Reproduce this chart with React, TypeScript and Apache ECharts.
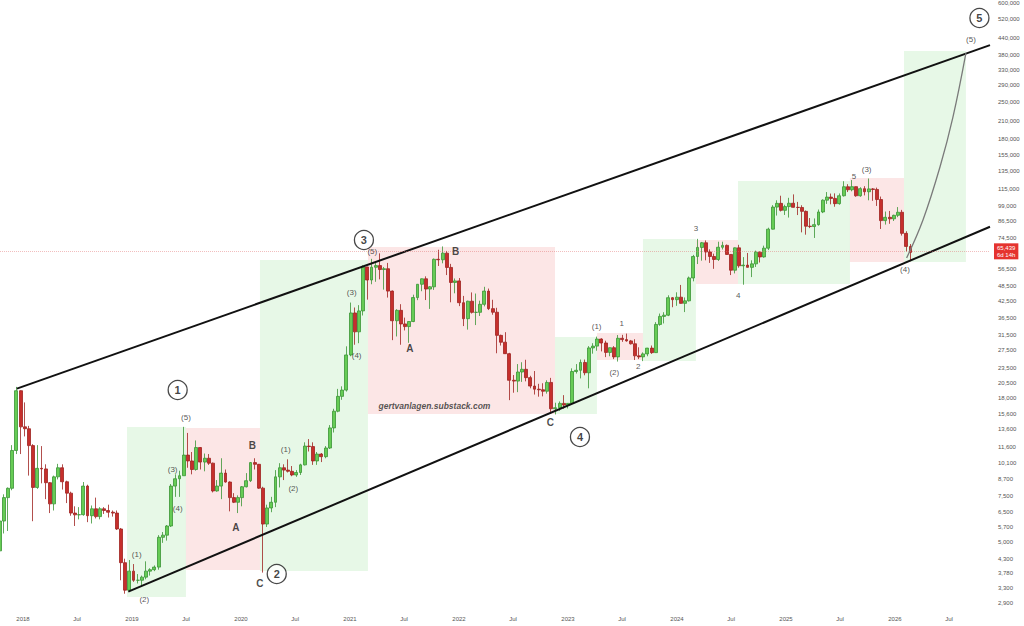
import React, { useEffect, useRef } from 'react';
import * as echarts from 'echarts';

// ---------- DATA ----------
// Bi-weekly BTC candles [open, close, low, high], first candle opens 2017-10-09
const candles2017 = [
  [4610, 6010, 4550, 6180], [6010, 7400, 5380, 7620], [7400, 8040, 5500, 8100],
  [8040, 11250, 7900, 11800], [11250, 19140, 10900, 19800], [19140, 13880, 10900, 19200],
];
const candles2018 = [
  [13880, 13650, 12750, 17250], [13650, 11750, 9000, 14000], [11750, 8100, 6000, 11900],
  [8100, 9600, 8000, 11800], [9600, 9550, 8400, 11700], [9550, 8450, 7300, 9950],
  [8450, 7000, 6450, 8500], [7000, 8900, 6600, 9000], [8900, 9650, 8700, 9990],
  [9650, 8520, 7950, 9950], [8520, 7700, 7050, 8600], [7700, 6450, 6300, 7800],
  [6450, 6350, 5750, 6850], [6350, 6360, 6100, 6800], [6360, 8200, 6300, 8500],
  [8200, 6300, 5950, 8300], [6300, 6700, 5880, 6900], [6700, 6250, 6150, 7400],
  [6250, 6700, 6100, 6800], [6700, 6600, 6400, 6800], [6600, 6500, 6200, 6950],
  [6500, 6450, 6250, 6600], [6450, 5600, 5550, 6600], [5600, 4150, 3550, 5650],
  [4150, 3250, 3150, 4300], [3250, 3850, 3200, 4250], [3850, 3550, 3500, 4100],
];
const candles2019 = [
  [3550, 3550, 3450, 3750], [3550, 3650, 3350, 3700], [3650, 3850, 3580, 4200],
  [3850, 3900, 3700, 3950], [3900, 3990, 3850, 4050], [3990, 5200, 3900, 5300],
  [5200, 5300, 4950, 5450], [5300, 5750, 5050, 5800], [5750, 8200, 5700, 8350],
  [8200, 8750, 7450, 9100], [8750, 8990, 7450, 9400], [8990, 10800, 8990, 13880],
  [10800, 10250, 9650, 13150], [10250, 9500, 9100, 11100], [9500, 11550, 9400, 12300],
  [11550, 10150, 9500, 11600], [10150, 10500, 9350, 10950], [10500, 10050, 9900, 10900],
  [10050, 7850, 7750, 10100], [7850, 8200, 7800, 8650], [8200, 9200, 7300, 10500],
  [9200, 8500, 8450, 9500], [8500, 7400, 6550, 8550], [7400, 7100, 7050, 7700],
  [7100, 7400, 6450, 7550], [7400, 8150, 6850, 8200],
];
const candles2020 = [
  [8150, 8600, 8100, 9200], [8600, 10100, 8500, 10150], [10100, 9950, 9500, 10500],
  [9950, 8050, 8000, 9980], [8050, 5850, 3800, 8150], [5850, 6750, 5700, 6950],
  [6750, 7100, 6500, 7450], [7100, 8900, 6800, 9450], [8900, 9650, 8100, 10050],
  [9650, 9450, 8650, 9950], [9450, 9350, 9250, 10400], [9350, 9050, 8950, 9800],
  [9050, 9250, 8900, 9450], [9250, 9900, 9050, 10000], [9900, 11700, 9850, 12100],
  [11700, 11650, 11150, 12450], [11650, 10250, 9900, 12100], [10250, 10900, 9900, 11100],
  [10900, 10650, 10150, 11000], [10650, 11500, 10500, 11700], [11500, 13750, 11400, 14100],
  [13750, 15950, 13200, 16300], [15950, 18200, 15800, 19450], [18200, 19250, 17650, 19900],
  [19250, 26300, 19000, 28400], [26300, 38200, 26000, 41900],
];
const candles2021 = [
  [38200, 32300, 28800, 40100], [32300, 38900, 29200, 40950], [38900, 57500, 37350, 58350],
  [57500, 51200, 43000, 57600], [51200, 57350, 49300, 61800], [57350, 58200, 50400, 60200],
  [58200, 56200, 51500, 64900], [56200, 56600, 47000, 57500], [56600, 46400, 43800, 59600],
  [46400, 35650, 30000, 46650], [35650, 39100, 31000, 39500], [39100, 34650, 28800, 41300],
  [34650, 33850, 32700, 36650], [33850, 35400, 29300, 35450], [35400, 43800, 35200, 44950],
  [43800, 49300, 42800, 49400], [49300, 51750, 46350, 51900], [51750, 47250, 42850, 52900],
  [47250, 48200, 39600, 48500], [48200, 61550, 46900, 62000], [61550, 61300, 58000, 67000],
  [61300, 65000, 59400, 69000], [65000, 57250, 53500, 66300], [57250, 50100, 42000, 59100],
  [50100, 50800, 45500, 51900], [50800, 41850, 40600, 52100],
];
const candles2022 = [
  [41850, 36300, 34000, 44450], [36300, 42400, 32950, 42600], [42400, 38400, 38000, 45850],
  [38400, 38420, 34300, 45400], [38420, 41250, 37200, 42600], [41250, 46400, 40500, 48200],
  [46400, 39700, 39200, 47450], [39700, 38450, 37600, 42950], [38450, 31300, 26700, 40000],
  [31300, 29450, 28600, 31500], [29450, 26600, 26550, 32200], [26600, 21000, 17600, 26800],
  [21000, 20850, 18800, 22000], [20850, 22600, 18900, 24250], [22600, 23150, 20700, 24650],
  [23150, 21500, 20800, 25200], [21500, 19950, 19550, 21850], [19950, 19400, 18500, 22800],
  [19400, 19300, 18150, 20350], [19300, 19050, 18200, 20450], [19050, 20600, 18650, 21000],
  [20600, 16300, 15600, 21450], [16300, 16450, 15500, 17200], [16450, 17100, 16000, 17400],
  [17100, 16850, 16300, 18400], [16850, 17100, 16350, 17150],
];
const candles2023 = [
  [17100, 22700, 17050, 23350], [22700, 22950, 22300, 24250], [22950, 24600, 21350, 25250],
  [24600, 22450, 21950, 25250], [22450, 28000, 19550, 28450], [28000, 28450, 26600, 29200],
  [28450, 30300, 27300, 30950], [30300, 29250, 27150, 30500], [29250, 26900, 25800, 29850],
  [26900, 28050, 26000, 28100], [28050, 25850, 25350, 28450], [25850, 30500, 24800, 31400],
  [30500, 30150, 29550, 31450], [30150, 29800, 29600, 31800], [29800, 29050, 28850, 30050],
  [29050, 26100, 25150, 30250], [26100, 25850, 25350, 28150], [25850, 26550, 24900, 26900],
  [26550, 27950, 26000, 28000], [27950, 26850, 26550, 28600], [26850, 34500, 26800, 35200],
  [34500, 37050, 34100, 38000], [37050, 37450, 34800, 38450], [37450, 43750, 37150, 44700],
  [43750, 43000, 40200, 44000], [43000, 43950, 40700, 45900],
];
const candles2024 = [
  [43950, 41600, 41500, 49000], [41600, 42550, 38500, 43850], [42550, 52150, 42300, 52800],
  [52150, 63100, 50600, 64000], [63100, 68400, 59000, 73800], [68400, 71300, 60800, 71800],
  [71300, 65700, 61000, 72800], [65700, 63100, 59600, 67250], [63100, 61450, 56550, 64700],
  [61450, 68500, 60650, 71950], [68500, 69650, 67150, 71950], [69650, 64250, 64100, 70200],
  [64250, 55850, 53500, 64350], [55850, 68150, 54300, 68350], [68150, 58100, 57100, 70000],
  [58100, 58450, 49100, 62750], [58450, 57300, 57200, 65100], [57300, 59100, 52550, 61000],
  [59100, 65600, 57500, 66500], [65600, 62850, 59800, 66000], [62850, 67950, 62450, 69500],
  [67950, 80450, 66800, 81500], [80450, 97900, 80200, 99600], [97900, 101200, 90800, 104000],
  [101200, 95100, 94150, 108300], [95100, 98350, 91300, 99950],
];
const candles2025 = [
  [98350, 101300, 89200, 106300], [101300, 97700, 97500, 109600], [97700, 97550, 91200, 102500],
  [97550, 94250, 78200, 99500], [94250, 82600, 76600, 95000], [82600, 82350, 81200, 88800],
  [82350, 83750, 74400, 88500], [83750, 93750, 83000, 95800], [93750, 104100, 92800, 104900],
  [104100, 107000, 100700, 111900], [107000, 105750, 100350, 110400], [105750, 100950, 98200, 110600],
  [100950, 108250, 100000, 110500], [108250, 117300, 107500, 123200], [117300, 114200, 111900, 120000],
  [114200, 117400, 112650, 124450], [117400, 108250, 107300, 117600], [108250, 115300, 107300, 116800],
  [115300, 112200, 108600, 117900], [112200, 115100, 104000, 126200], [115100, 114500, 103500, 116000],
  [114500, 104700, 98900, 116400], [104700, 86800, 80600, 107500], [86800, 89400, 83800, 94100],
  [89400, 88200, 84400, 94600], [88200, 91000, 86500, 91500],
];
const candles2026 = [
  [91000, 93500, 89500, 97900], [93500, 77500, 76000, 95500], [77500, 69000, 66000, 79000],
  [69000, 65439, 60500, 70500],
];

const lastPrice = 65439;
const lastCountdown = '6d 14h';

const xTickYears = [2018, 2019, 2020, 2021, 2022, 2023, 2024, 2025, 2026];
const yTickPrices = [
  2900, 3300, 3780, 4300, 5000, 5700, 6500, 7500, 8700, 10100, 11600, 13600, 15600, 18000,
  20500, 23500, 27500, 31500, 36500, 42500, 48500, 56500, 74500, 86500, 99000, 115000,
  135000, 155000, 180000, 210000, 250000, 290000, 330000, 380000, 440000, 520000, 600000,
];

// channel anchors [decimal year, price]
const upperChannel = [[2017.944, 19500], [2026.872, 413000]];
const lowerChannel = [[2018.966, 3207], [2026.872, 82170]];
// projected path
const projection = [
  [2026.107, 62300], [2026.257, 87300], [2026.413, 139800], [2026.532, 218000], [2026.651, 385000],
];

// boxes [startYear, endYear, low, high]
const greenBoxes = [
  [2018.954, 2019.495, 3059, 13860],
  [2020.174, 2021.165, 3854, 61160],
  [2022.881, 2023.266, 15560, 30860],
  [2023.688, 2024.174, 24920, 73720],
  [2024.56, 2025.587, 49420, 123500],
  [2026.083, 2026.651, 60090, 392000],
];
const redBoxes = [
  [2019.495, 2020.174, 3889, 13740],
  [2021.165, 2022.881, 15560, 68680],
  [2023.266, 2023.688, 25150, 31970],
  [2024.174, 2024.56, 49420, 73070],
  [2025.587, 2026.083, 60090, 126800],
];

// annotations [decimal year, price, text]
const circledLabels = [
  [2019.419, 19260, '1'], [2020.328, 3753, '2'], [2021.128, 73080, '3'],
  [2023.11, 12680, '4'], [2026.775, 525800, '5'],
];
const waveLabels = [
  [2019.495, 15080, '(5)'], [2019.373, 9543, '(3)'], [2019.419, 6747, '(4)'],
  [2019.043, 4483, '(1)'], [2019.113, 2992, '(2)'],
  [2020.41, 11300, '(1)'], [2020.48, 8025, '(2)'], [2021.016, 45820, '(3)'],
  [2021.061, 26170, '(4)'], [2021.205, 65980, '(5)'],
  [2023.263, 33720, '(1)'], [2023.493, 34780, '1'], [2023.425, 22500, '(2)'],
  [2023.645, 23740, '2'], [2024.174, 80590, '3'], [2024.562, 44810, '4'],
  [2025.624, 129000, '5'], [2025.74, 137000, '(3)'], [2026.092, 55970, '(4)'],
  [2026.697, 435000, '(5)'],
];
const letterLabels = [
  [2020.104, 11810, 'B'], [2019.954, 5649, 'A'], [2020.174, 3434, 'C'],
  [2021.55, 27860, 'A'], [2021.968, 65680, 'B'], [2022.839, 14490, 'C'],
];
const watermark = [[2021.775, 16710, 'gertvanlagen.substack.com']];

// ---------- HELPERS ----------
const DAY = 86400000;
const FIRST_CANDLE = Date.UTC(2017, 9, 9);
const L = (p: number) => Math.log10(p);
const toYear = (ms: number) => {
  const y = new Date(ms).getUTCFullYear();
  const s = Date.UTC(y, 0, 1);
  const e = Date.UTC(y + 1, 0, 1);
  return y + (ms - s) / (e - s);
};

const X_MIN = 2017.789;
const X_MAX = 2026.872;
const Y_MIN = 3.4354;
const Y_MAX = 5.7902;
const FONT = '"Liberation Sans", Arial, sans-serif';

const allCandles = [
  ...candles2017, ...candles2018, ...candles2019, ...candles2020, ...candles2021,
  ...candles2022, ...candles2023, ...candles2024, ...candles2025, ...candles2026,
];
const candleData = allCandles.map((c, i) => [
  toYear(FIRST_CANDLE + i * 14 * DAY + 6 * DAY), L(c[0]), L(c[1]), L(c[2]), L(c[3]),
]);

const xTicks: number[] = [];
xTickYears.forEach((y) => {
  xTicks.push(toYear(Date.UTC(y, 0, 1)));
  xTicks.push(toYear(Date.UTC(y, 6, 1)));
});

const boxData = [
  ...greenBoxes.map((b) => [b[0], b[1], L(b[2]), L(b[3]), 0]),
  ...redBoxes.map((b) => [b[0], b[1], L(b[2]), L(b[3]), 1]),
];

const toPts = (arr: number[][]) => arr.map(([t, p]) => [t, L(p)]);
const toLabelData = (arr: any[]) => arr.map(([t, p, s]) => ({ name: s, value: [t, L(p)] }));

const plainLabel = (extra: any) => ({
  show: true,
  position: 'inside',
  formatter: '{b}',
  fontFamily: FONT,
  textBorderWidth: 0,
  textBorderColor: 'transparent',
  textShadowBlur: 0,
  ...extra,
});

const labelSeries = (data: any[], label: any) => ({
  type: 'scatter',
  z: 5,
  silent: true,
  symbolSize: 1,
  itemStyle: { color: 'rgba(0,0,0,0)' },
  data: toLabelData(data),
  label: plainLabel(label),
});

const option: any = {
  animation: false,
  backgroundColor: '#ffffff',
  textStyle: { fontFamily: FONT },
  grid: { left: 0, right: 34, top: 0, bottom: 16, containLabel: false },
  xAxis: {
    type: 'value',
    min: X_MIN,
    max: X_MAX,
    axisLine: { show: false },
    axisTick: { show: false },
    splitLine: { show: false },
    axisLabel: {
      customValues: xTicks,
      formatter: (v: number) => (Math.abs(v - Math.round(v)) < 0.01 ? String(Math.round(v)) : 'Jul'),
      fontSize: 6,
      color: '#555',
      margin: 6,
      fontFamily: FONT,
    },
  },
  yAxis: {
    type: 'value',
    position: 'right',
    min: Y_MIN,
    max: Y_MAX,
    axisLine: { show: false },
    axisTick: { show: false },
    splitLine: { show: false },
    axisLabel: {
      customValues: yTickPrices.map(L),
      formatter: (v: number) => Math.round(Math.pow(10, v)).toLocaleString('en-US'),
      fontSize: 6,
      color: '#555',
      align: 'left',
      margin: 8,
      fontFamily: FONT,
    },
  },
  series: [
    {
      type: 'custom',
      z: 1,
      silent: true,
      clip: true,
      data: boxData,
      encode: { x: [0, 1], y: [2, 3] },
      renderItem: (params: any, api: any) => {
        const p1 = api.coord([api.value(0), api.value(3)]);
        const p2 = api.coord([api.value(1), api.value(2)]);
        const red = api.value(4) === 1;
        return {
          type: 'rect',
          shape: { x: p1[0], y: p1[1], width: p2[0] - p1[0], height: p2[1] - p1[1] },
          style: { fill: red ? 'rgba(232, 60, 60, 0.13)' : 'rgba(60, 195, 60, 0.12)' },
        };
      },
    },
    {
      type: 'candlestick',
      z: 3,
      silent: true,
      barWidth: 3.4,
      data: candleData,
      itemStyle: {
        color: '#66cc55',
        color0: '#c62f2c',
        borderColor: '#3a9435',
        borderColor0: '#9e2220',
        borderWidth: 0.8,
      },
      markLine: {
        silent: true,
        symbol: ['none', 'none'],
        lineStyle: { color: 'rgba(225, 110, 110, 0.45)', type: 'dotted', width: 1 },
        label: {
          show: true,
          position: 'end',
          distance: 4,
          formatter: () => `${lastPrice.toLocaleString('en-US')}\n${lastCountdown}`,
          backgroundColor: '#e5332f',
          color: '#fff',
          fontSize: 6,
          lineHeight: 7,
          padding: [1, 3, 1, 3],
          fontFamily: FONT,
        },
        data: [{ yAxis: L(lastPrice) }],
      },
    },
    {
      type: 'line',
      z: 4,
      silent: true,
      symbol: 'none',
      data: toPts(upperChannel),
      lineStyle: { color: '#111', width: 2 },
    },
    {
      type: 'line',
      z: 4,
      silent: true,
      symbol: 'none',
      data: toPts(lowerChannel),
      lineStyle: { color: '#111', width: 2 },
    },
    {
      type: 'line',
      z: 4,
      silent: true,
      symbol: 'none',
      smooth: 0.4,
      data: toPts(projection),
      lineStyle: { color: '#7a7a7a', width: 1.3 },
    },
    labelSeries(waveLabels, { fontSize: 8, color: '#2a2a2a' }),
    labelSeries(letterLabels, { fontSize: 10, fontWeight: 'bold', color: '#1a1a1a' }),
    labelSeries(watermark, { fontSize: 8.5, fontWeight: 'bold', fontStyle: 'italic', color: '#2a2a2a' }),
    {
      type: 'scatter',
      z: 6,
      silent: true,
      symbol: 'circle',
      symbolSize: 19,
      itemStyle: { color: '#ffffff', borderColor: '#1a1a1a', borderWidth: 1.3 },
      data: toLabelData(circledLabels),
      label: plainLabel({ fontSize: 11, fontWeight: 'bold', color: '#111' }),
    },
  ],
};

export default function App() {
  const ref = useRef<HTMLDivElement>(null);
  useEffect(() => {
    const chart = echarts.init(ref.current!, undefined, { renderer: 'svg' });
    chart.setOption(option);
    return () => chart.dispose();
  }, []);
  return (
    <div
      ref={ref}
      style={{ position: 'absolute', left: 0, top: 0, width: 1024, height: 626, background: '#fff' }}
    />
  );
}
